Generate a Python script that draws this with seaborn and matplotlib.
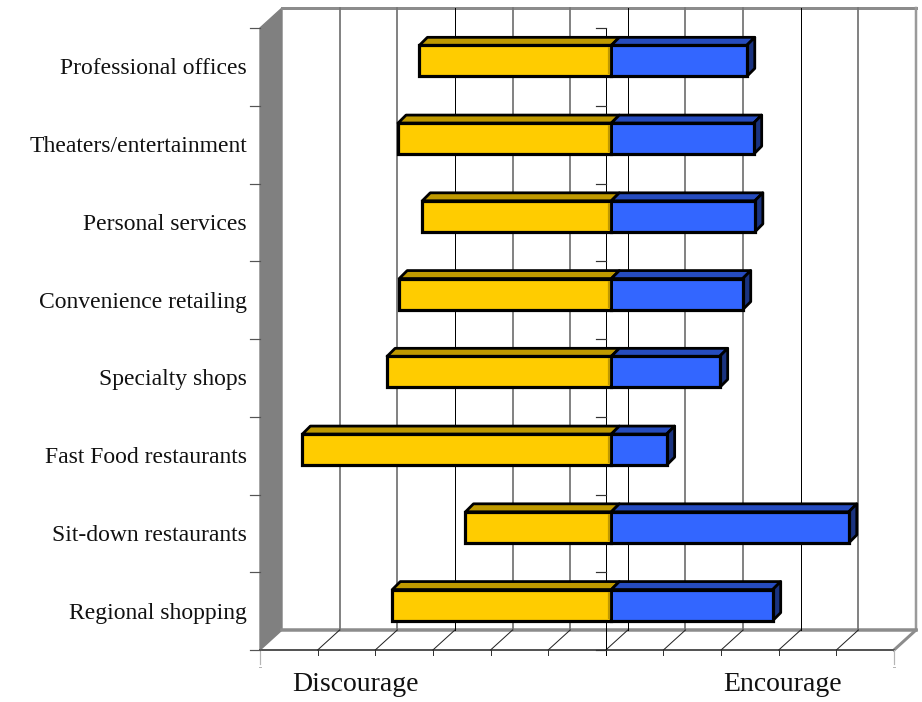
import matplotlib
matplotlib.use("Agg")
import matplotlib.pyplot as plt
import pandas as pd
import seaborn as sns
from matplotlib.patches import Polygon

categories = ["Professional offices", "Theaters/entertainment", "Personal services",
              "Convenience retailing", "Specialty shops", "Fast Food restaurants",
              "Sit-down restaurants", "Regional shopping"]
discourage = [-33.3, -37.0, -32.8, -36.8, -38.9, -53.6, -25.3, -38.0]
encourage = [23.5, 24.7, 24.9, 22.8, 18.8, 9.6, 41.2, 28.0]
side_labels = ["Discourage", "Encourage"]
side_label_x = [-43.5, 30.6]

X_MIN, X_MAX = -60, 50
W, H = 922, 702

YELLOW, YELLOW_TOP = "#FFCC00", "#BF9900"
BLUE, BLUE_TOP, BLUE_SIDE = "#3366FF", "#264CBF", "#1A3380"
WALL = "#808080"
FONT = ["Liberation Serif", "DejaVu Serif"]

sns.set_theme(style="white")
fig = plt.figure(figsize=(W / 100, H / 100), dpi=100, facecolor="white")

# The axes sit on the plane of the bars' front faces; the chart box lies in front and behind it.
left, right, top, bottom = 265.5, 899.5, 22, 644
ax = fig.add_axes([left / W, 1 - bottom / H, (right - left) / W, (bottom - top) / H])

df = pd.DataFrame({
    "category": categories * 2,
    "value": discourage + encourage,
    "side": ["Discourage"] * len(categories) + ["Encourage"] * len(categories),
})
sns.barplot(data=df, y="category", x="value", hue="side", order=categories, dodge=False,
            palette=[YELLOW, BLUE], saturation=1, width=0.4, edgecolor="black", linewidth=2.3,
            legend=False, ax=ax, zorder=4)
ax.set_xlim(X_MIN, X_MAX)
ax.set_ylim(len(categories) - 0.5, -0.5)
ax.axis("off")

ux = (right - left) / (X_MAX - X_MIN)
uy = (bottom - top) / len(categories)


def at(x, y, off=(0, 0)):
    """Data position shifted by a pixel offset (right, up)."""
    return (x + off[0] / ux, y - off[1] / uy)


FRONT = (-5.5, -6)
BACK = (16.5, 14)
y0, y1 = len(categories) - 0.5, -0.5


def line(p, q, color, lw, z=1, cap="projecting"):
    ax.plot([p[0], q[0]], [p[1], q[1]], color=color, lw=lw * 0.72, zorder=z,
            clip_on=False, solid_capstyle=cap)


# Side wall
ax.add_patch(Polygon([at(X_MIN, y1, FRONT), at(X_MIN, y1, BACK), at(X_MIN, y0, BACK),
                      at(X_MIN, y0, FRONT)], closed=True, fc=WALL, ec=WALL, lw=1,
                     clip_on=False, zorder=1))

# Back wall outline and floor outline
line(at(X_MIN, y1, BACK), at(X_MAX, y1, BACK), "#8c8c8c", 3)
line(at(X_MAX, y1, BACK), at(X_MAX, y0, BACK), "#9a9a9a", 2.5)
line(at(X_MIN, y0, BACK), at(X_MAX, y0, BACK), "#8c8c8c", 3.5)
line(at(X_MAX, y0, BACK), at(X_MAX, y0, FRONT), "#8c8c8c", 3)
line(at(X_MIN, y0, FRONT), at(X_MAX, y0, FRONT), "#555555", 2)

# Grid on the back wall, floor diagonals and ticks under the front edge
grid_values = list(range(X_MIN, X_MAX + 1, 10))
for k, v in enumerate(grid_values):
    if 0 < k < len(grid_values) - 1:
        dark = k % 3 == 0
        line(at(v, y1, BACK), at(v, y0, BACK), "black" if dark else "#777777",
             1 if dark else 1.8)
        line(at(v, y0, FRONT), at(v, y0, BACK), "#222222", 1)
    line(at(v, y0, FRONT), at(v, y0, (FRONT[0], FRONT[1] - 5)), "#333333", 1)
for v in (X_MIN, X_MAX):
    line(at(v, y0, FRONT), at(v, y0, (FRONT[0], FRONT[1] - 14)), "#b5b5b5", 1.2)
    line(at(v, y0, (FRONT[0] - 1, FRONT[1] - 17)), at(v, y0, (FRONT[0] + 1, FRONT[1] - 17)),
         "#b5b5b5", 1)

# Category axis at zero, with ticks both on it and on the left edge
line(at(0, y1, FRONT), at(0, y0, (FRONT[0], FRONT[1] - 5)), "black", 1, z=2)
for i in range(len(categories) + 1):
    yy = i - 0.5
    line(at(0, yy, FRONT), at(0, yy, (FRONT[0] - 10, FRONT[1])), "#333333", 1.2, z=2)
    line(at(X_MIN, yy, FRONT), at(X_MIN, yy, (FRONT[0] - 10, FRONT[1])), "#555555", 1.2, z=2)

# Depth of each bar: top faces, the blue end cap, and the seam at zero
depth = (8, 8)
half = 0.2
for i, (neg, pos) in enumerate(zip(discourage, encourage)):
    t = i - half
    b = i + half
    for a, c, col, z in ((neg, 0, YELLOW_TOP, 3.2), (0, pos, BLUE_TOP, 3.4)):
        ax.add_patch(Polygon([at(a, t), at(a, t, depth), at(c, t, depth), at(c, t)],
                             closed=True, fc=col, ec="black", lw=2.0, joinstyle="round",
                             clip_on=False, zorder=z))
    ax.add_patch(Polygon([at(pos, t), at(pos, t, depth), at(pos, b, depth), at(pos, b)],
                         closed=True, fc=BLUE_SIDE, ec="black", lw=2.0, joinstyle="round",
                         clip_on=False, zorder=3.4))
    line(at(0, t, (-2, -2)), at(0, b, (-2, 2)), YELLOW_TOP, 2.2, z=5, cap="butt")
    line(at(0, t, (1.5, -2)), at(0, b, (1.5, 2)), BLUE, 1, z=5, cap="butt")

# Keep the front faces above their depth polygons
for patch in ax.patches:
    if patch.__class__.__name__ == "Rectangle":
        patch.set_zorder(4)
        patch.set_clip_on(False)

# Text
for i, name in enumerate(categories):
    x, y = at(X_MIN, i, (FRONT[0] - 13, FRONT[1] - 2))
    ax.text(x, y, name, ha="right", va="center", family=FONT, fontsize=17,
            color="#111111", clip_on=False)
for name, v in zip(side_labels, side_label_x):
    x, y = at(v, y0, (FRONT[0], FRONT[1] - 35))
    ax.text(x, y, name, ha="center", va="center", family=FONT, fontsize=20,
            color="#111111", clip_on=False)

fig.savefig("out.png", dpi=100, facecolor="white")
